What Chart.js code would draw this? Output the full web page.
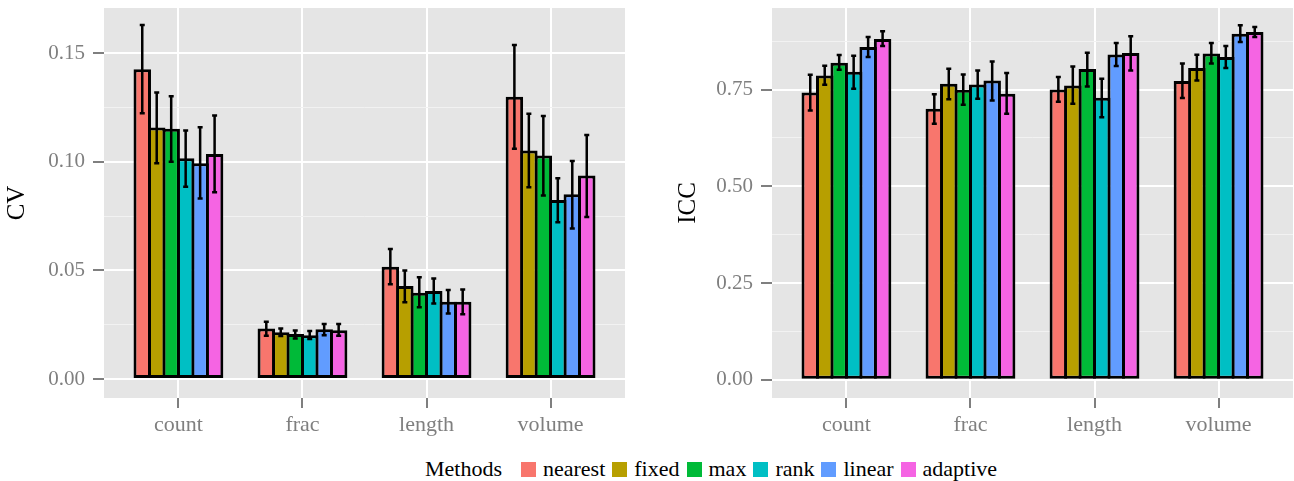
<!DOCTYPE html>
<html lang="en">
<head>
<meta charset="UTF-8">
<title>CV and ICC by method</title>
<script src="https://cdn.jsdelivr.net/npm/chart.js"></script>
<style>
  body { margin: 0; background: #fff; width: 1294px; height: 481px; position: relative; overflow: hidden; font-family: 'Liberation Serif', serif; }
  canvas { position: absolute; top: 0; }
  #cvChart { left: 0; }
  #iccChart { left: 645px; }
  .legend { position: absolute; left: 425px; top: 455px; height: 28px; display: flex; align-items: center; font-family: 'Liberation Serif', serif; font-size: 22px; color: #000; white-space: nowrap; }
  .legend .title { margin-right: 19px; }
  .legend .key { width: 15px; height: 15px; margin-right: 7px; }
  .legend .label { margin-right: 7px; }
</style>
</head>
<body>
<canvas id="cvChart" width="645" height="440"></canvas>
<canvas id="iccChart" width="649" height="440"></canvas>
<div class="legend" id="legend"><span class="title">Methods</span></div>

<script>
const categories = ['count', 'frac', 'length', 'volume'];
const methods = ['nearest', 'fixed', 'max', 'rank', 'linear', 'adaptive'];
const methodColors = ['#F8766D', '#B79F00', '#00BA38', '#00BFC4', '#619CFF', '#F564E3'];

// rows follow methods, columns follow categories
const cvMean = [
  [0.1425, 0.0233, 0.0517, 0.1299],
  [0.1157, 0.0215, 0.0428, 0.1051],
  [0.1152, 0.0207, 0.0397, 0.1028],
  [0.1016, 0.0202, 0.0405, 0.0824],
  [0.0993, 0.0229, 0.0356, 0.0850],
  [0.1035, 0.0225, 0.0356, 0.0936]
];
const cvLow = [
  [0.1223, 0.0199, 0.0436, 0.1060],
  [0.0993, 0.0198, 0.0353, 0.0882],
  [0.1000, 0.0187, 0.0330, 0.0844],
  [0.0885, 0.0184, 0.0348, 0.0721],
  [0.0831, 0.0202, 0.0302, 0.0693],
  [0.0859, 0.0199, 0.0298, 0.0746]
];
const cvHigh = [
  [0.1629, 0.0264, 0.0598, 0.1537],
  [0.1318, 0.0233, 0.0500, 0.1220],
  [0.1301, 0.0224, 0.0468, 0.1210],
  [0.1143, 0.0221, 0.0463, 0.0924],
  [0.1158, 0.0253, 0.0410, 0.1003],
  [0.1212, 0.0253, 0.0412, 0.1123]
];

const iccMean = [
  [0.7428, 0.7006, 0.7505, 0.7721],
  [0.7867, 0.7652, 0.7609, 0.8057],
  [0.8195, 0.7497, 0.8031, 0.8437],
  [0.7963, 0.7635, 0.7290, 0.8342],
  [0.8600, 0.7738, 0.8411, 0.8947],
  [0.8808, 0.7394, 0.8445, 0.8990]
];
const iccLow = [
  [0.6962, 0.6617, 0.7187, 0.7281],
  [0.7626, 0.7254, 0.7135, 0.7738],
  [0.8015, 0.7109, 0.7583, 0.8178],
  [0.7523, 0.7264, 0.6788, 0.8057],
  [0.8342, 0.7221, 0.8108, 0.8730],
  [0.8626, 0.6876, 0.7997, 0.8861]
];
const iccHigh = [
  [0.7885, 0.7384, 0.7824, 0.8178],
  [0.8118, 0.8040, 0.8100, 0.8403],
  [0.8394, 0.7893, 0.8455, 0.8704],
  [0.8377, 0.7997, 0.7782, 0.8627],
  [0.8859, 0.8230, 0.8704, 0.9161],
  [0.9006, 0.7927, 0.8877, 0.9120]
];

const cvTicks = [0, 0.05, 0.10, 0.15];
const cvMinorTicks = [0.025, 0.075, 0.125];
const iccTicks = [0, 0.25, 0.50, 0.75];
const iccMinorTicks = [0.125, 0.375, 0.625, 0.875];

Chart.defaults.font.family = "'Liberation Serif', serif";
Chart.defaults.color = '#7f7f7f';

// grey panel behind the grid
const panelBackground = {
  id: 'panelBackground',
  beforeDraw(chart) {
    const { ctx, chartArea: a } = chart;
    ctx.save();
    ctx.fillStyle = '#e5e5e5';
    ctx.fillRect(a.left, a.top, a.right - a.left, a.bottom - a.top);
    ctx.restore();
  }
};

// whiskers from each dataset's errLow / errHigh
const errorBars = {
  id: 'errorBars',
  afterDatasetsDraw(chart) {
    const ctx = chart.ctx;
    const yScale = chart.scales.y;
    ctx.save();
    ctx.strokeStyle = '#000';
    ctx.lineWidth = 2.5;
    chart.data.datasets.forEach((ds, i) => {
      chart.getDatasetMeta(i).data.forEach((bar, j) => {
        const top = yScale.getPixelForValue(ds.errHigh[j]);
        const bottom = yScale.getPixelForValue(ds.errLow[j]);
        ctx.beginPath();
        ctx.moveTo(bar.x, top);
        ctx.lineTo(bar.x, bottom);
        ctx.moveTo(bar.x - 2.5, top);
        ctx.lineTo(bar.x + 2.5, top);
        ctx.moveTo(bar.x - 2.5, bottom);
        ctx.lineTo(bar.x + 2.5, bottom);
        ctx.stroke();
      });
    });
    ctx.restore();
  }
};

function makePanel(id, title, means, lows, highs, yMin, yMax, majors, minors, axisWidth, titlePad, padRight) {
  const borderW = 3;
  const chunk = 124 * 0.7 / methods.length;
  const datasets = methods.map((m, i) => ({
    label: m,
    data: categories.map((c, j) => ({ x: j, y: means[i][j] })),
    errLow: lows[i],
    errHigh: highs[i],
    backgroundColor: methodColors[i],
    borderColor: '#000',
    borderWidth: borderW,
    borderSkipped: false,
    categoryPercentage: 0.7,
    // widen each bar by one border so neighbours share an outline
    barPercentage: 1 + borderW / chunk
  }));
  const isMajor = v => majors.some(t => Math.abs(t - v) < 1e-9);

  return new Chart(document.getElementById(id), {
    type: 'bar',
    data: { datasets },
    plugins: [panelBackground, errorBars],
    options: {
      responsive: false,
      animation: false,
      layout: { padding: { left: 0, right: padRight, top: 8, bottom: 0 } },
      plugins: { legend: { display: false }, tooltip: { enabled: false } },
      scales: {
        x: {
          type: 'linear',
          min: -0.6,
          max: 3.6,
          offset: false,
          afterBuildTicks: s => { s.ticks = categories.map((c, i) => ({ value: i })); },
          afterFit: s => {
            s.height = 42;
            s.paddingLeft = 0;
            s.paddingRight = 0;
          },
          border: { display: false },
          grid: {
            offset: false,
            color: '#ffffff',
            lineWidth: 2,
            tickColor: '#7f7f7f',
            tickWidth: 2,
            tickLength: 10
          },
          ticks: {
            autoSkip: false,
            maxRotation: 0,
            padding: 4,
            font: { size: 22 },
            color: '#7f7f7f',
            callback: v => categories[v]
          }
        },
        y: {
          min: yMin,
          max: yMax,
          afterBuildTicks: s => {
            s.ticks = majors.concat(minors).sort((a, b) => a - b).map(v => ({ value: v }));
          },
          afterFit: s => {
            s.width = axisWidth;
            s.paddingTop = 0;
            s.paddingBottom = 0;
          },
          border: { display: false },
          title: {
            display: true,
            text: title,
            color: '#000',
            font: { size: 25 },
            padding: { top: titlePad, bottom: 0 }
          },
          grid: {
            color: c => isMajor(c.tick.value) ? '#ffffff' : '#f2f2f2',
            lineWidth: c => isMajor(c.tick.value) ? 2 : 1,
            tickColor: c => isMajor(c.tick.value) ? '#7f7f7f' : 'rgba(0,0,0,0)',
            tickWidth: 2,
            tickLength: 11
          },
          ticks: {
            autoSkip: false,
            padding: 8,
            font: { size: 21 },
            color: '#7f7f7f',
            callback: v => isMajor(v) ? v.toFixed(2) : ''
          }
        }
      }
    }
  });
}

makePanel('cvChart', 'CV', cvMean, cvLow, cvHigh, -0.0087, 0.1707, cvTicks, cvMinorTicks, 104, 2, 20);
makePanel('iccChart', 'ICC', iccMean, iccLow, iccHigh, -0.047, 0.961, iccTicks, iccMinorTicks, 127, 28, 1);

// shared legend under both panels
const legend = document.getElementById('legend');
methods.forEach((m, i) => {
  const key = document.createElement('span');
  key.className = 'key';
  key.style.background = methodColors[i];
  const label = document.createElement('span');
  label.className = 'label';
  label.textContent = m;
  legend.appendChild(key);
  legend.appendChild(label);
});
</script>
</body>
</html>
